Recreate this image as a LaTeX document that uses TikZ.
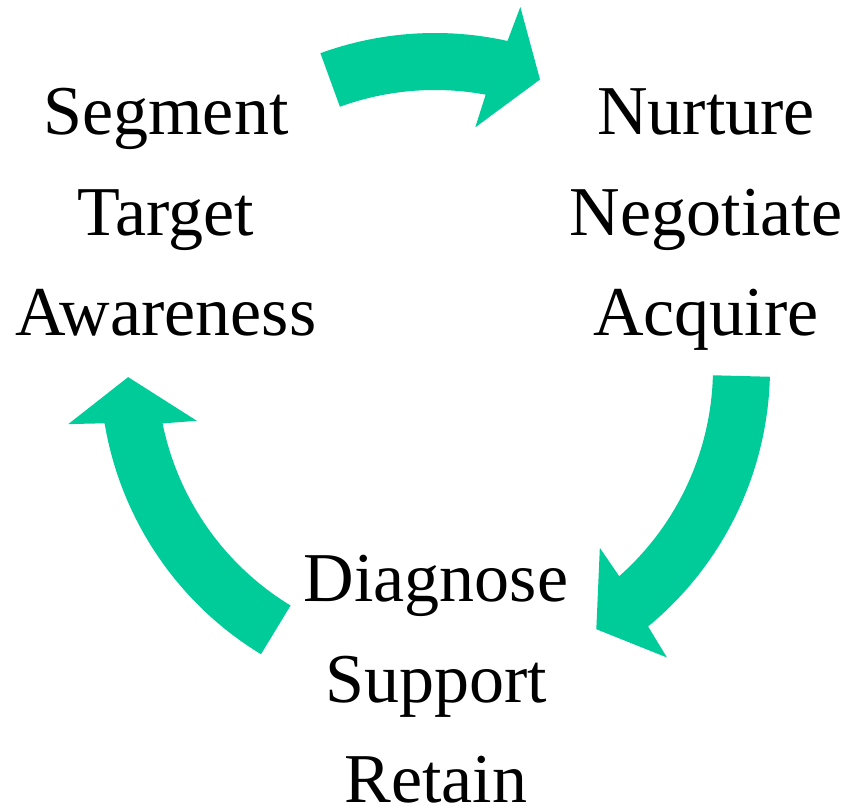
\documentclass[tikz,border=0pt]{standalone}
\usepackage{fontspec}
\setmainfont{Liberation Serif}
\usetikzlibrary{positioning}
\definecolor{cyclegreen}{HTML}{00CC99}
\tikzset{stage/.style = {font = \fontsize{70}{80}\selectfont, inner sep = 0pt,
                         text height = 48pt, text depth = 16pt},
         band/.style  = {fill = cyclegreen, draw = none}}
% curved block arrow round (hub): tail angle, shoulder angle, tip angle
\newcommand{\cyclearrow}[3]{%
  \fill [band, shift = {(hub)}] (#1:278) arc [start angle = #1, end angle = {#2+1}, radius = 278]
    -- ({#2+2}:244) -- (#3:307) -- ({#2-1.8}:371) -- ({#2-1}:335)
    arc [start angle = {#2-1}, end angle = #1, radius = 335] -- cycle;}

\begin{document}
\begin{tikzpicture}[x = 1pt, y = 1pt]
  \useasboundingbox (0,0) rectangle (846,806);
  % nodes
  \coordinate (hub) at (435,438);
  \node [stage, anchor = base] (segment) at (166,671) {Segment};
  \node [stage, below = 36pt of segment] (target) {Target};
  \node [stage, below = 36pt of target] (awareness) {Awareness};
  \node [stage, anchor = base] (nurture) at (706,671) {Nurture};
  \node [stage, below = 36pt of nurture] (negotiate) {Negotiate};
  \node [stage, below = 36pt of negotiate] (acquire) {Acquire};
  \node [stage, anchor = base] (diagnose) at (436,204) {Diagnose};
  \node [stage, below = 36pt of diagnose] (support) {Support};
  \node [stage, below = 36pt of support] (retain) {Retain};
  % arrows
  \cyclearrow{110}{78.5}{70}
  \cyclearrow{-1.5}{-49.5}{-58.3}
  \cyclearrow{238.7}{190.5}{181.7}
\end{tikzpicture}
\end{document}
